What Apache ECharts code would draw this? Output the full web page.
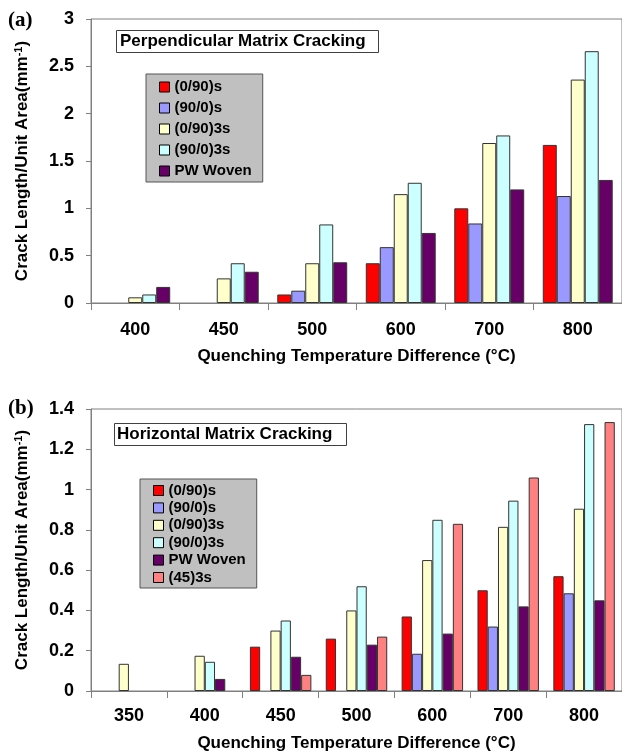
<!DOCTYPE html>
<html>
<head>
<meta charset="utf-8">
<script src="https://cdn.jsdelivr.net/npm/echarts@6/dist/echarts.min.js"></script>
<style>
html,body{margin:0;padding:0;background:#fff;}
#chart{width:622px;height:753px;}
</style>
</head>
<body>
<div id="chart"></div>
<script>
// ---- Data: panel (a) Perpendicular Matrix Cracking ----
var categoriesA = ['400', '450', '500', '600', '700', '800'];
var a_0_90s   = [null, null, 0.09, 0.42, 1.00, 1.67];
var a_90_0s   = [null, null, 0.13, 0.59, 0.84, 1.13];
var a_0_90_3s = [0.06, 0.26, 0.42, 1.15, 1.69, 2.36];
var a_90_0_3s = [0.09, 0.42, 0.83, 1.27, 1.77, 2.66];
var a_pw      = [0.17, 0.33, 0.43, 0.74, 1.20, 1.30];

// ---- Data: panel (b) Horizontal Matrix Cracking ----
var categoriesB = ['350', '400', '450', '500', '600', '700', '800'];
var b_0_90s   = [null, null, 0.22, 0.26, 0.37, 0.50, 0.57];
var b_90_0s   = [null, null, null, null, 0.185, 0.32, 0.485];
var b_0_90_3s = [0.135, 0.175, 0.30, 0.40, 0.65, 0.815, 0.905];
var b_90_0_3s = [null, 0.145, 0.35, 0.52, 0.85, 0.945, 1.325];
var b_pw      = [null, 0.06, 0.17, 0.23, 0.285, 0.42, 0.45];
var b_45_3s   = [null, null, 0.08, 0.27, 0.83, 1.06, 1.335];

var seriesNames = ['(0/90)s', '(90/0)s', '(0/90)3s', '(90/0)3s', 'PW Woven', '(45)3s'];
var yTicksA = {min: 0, max: 3, interval: 0.5};
var yTicksB = {min: 0, max: 1.4, interval: 0.2};
var xTitle = 'Quenching Temperature Difference (°C)';
var yTitle = 'Crack Length/Unit Area(mm{sup|-1})';

var colors = ['#ff0000', '#9999ff', '#ffffcc', '#ccffff', '#660066', '#ff8080'];
var FONT = "'Liberation Sans', Arial, sans-serif";

function mkX(idx, cats, margin, nameGap) {
  return {
    type: 'category', gridIndex: idx, data: cats,
    axisLine: {lineStyle: {color: '#808080', width: 1}},
    axisTick: {show: true, length: 7, lineStyle: {color: '#808080'}},
    axisLabel: {margin: margin, color: '#000', fontSize: 18, fontWeight: 'bold', fontFamily: FONT},
    name: xTitle, nameLocation: 'middle', nameGap: nameGap,
    nameTextStyle: {color: '#000', fontSize: 17, fontWeight: 'bold', fontFamily: FONT}
  };
}
function mkY(idx, t) {
  return {
    type: 'value', gridIndex: idx, min: t.min, max: t.max, interval: t.interval,
    axisLine: {show: true, lineStyle: {color: '#808080', width: 1}},
    axisTick: {show: true, length: 5, lineStyle: {color: '#808080'}},
    splitLine: {show: false},
    axisLabel: {margin: 17, color: '#000', fontSize: 18, fontWeight: 'bold', fontFamily: FONT},
    name: yTitle, nameLocation: 'middle', nameGap: 59, nameRotate: 90,
    nameTextStyle: {color: '#000', fontSize: 17, fontWeight: 'bold', fontFamily: FONT,
      rich: {sup: {fontSize: 11, fontWeight: 'bold', fontFamily: FONT, color: '#000', verticalAlign: 'top', padding: [0, 0, 8, 0]}}}
  };
}
function mkSeries(name, data, idx, ci, gap) {
  return {
    name: name, type: 'bar', xAxisIndex: idx, yAxisIndex: idx, data: data,
    barGap: '0%', barCategoryGap: gap,
    itemStyle: {color: colors[ci], borderColor: '#333', borderWidth: 1},
    emphasis: {disabled: true}
  };
}

var chart = echarts.init(document.getElementById('chart'), null, {renderer: 'canvas'});
var option = {
  animation: false,
  backgroundColor: '#fff',
  title: [
    {text: 'Perpendicular Matrix Cracking', left: 116, top: 30, padding: [3, 13, 3, 4],
     borderColor: '#404040', borderWidth: 1, backgroundColor: '#fff',
     textStyle: {color: '#000', fontSize: 17, fontWeight: 'bold', fontFamily: FONT}},
    {text: 'Horizontal Matrix Cracking', left: 114, top: 423, padding: [3, 14, 3, 3],
     borderColor: '#404040', borderWidth: 1, backgroundColor: '#fff',
     textStyle: {color: '#000', fontSize: 17, fontWeight: 'bold', fontFamily: FONT}}
  ],
  legend: [
    {data: seriesNames.slice(0, 5), orient: 'vertical', left: 146, top: 74,
     padding: [5, 11, 3, 13], itemGap: 5, itemWidth: 10, itemHeight: 10, icon: 'rect',
     backgroundColor: '#c0c0c0', borderColor: '#555', borderWidth: 1, selectedMode: false,
     itemStyle: {borderColor: '#000', borderWidth: 1},
     textStyle: {color: '#000', fontSize: 15, lineHeight: 16, fontWeight: 'bold', fontFamily: FONT}},
    {data: seriesNames, orient: 'vertical', left: 140, top: 479,
     padding: [4, 11, 3, 13], itemGap: 2.4, itemWidth: 10, itemHeight: 10, icon: 'rect',
     backgroundColor: '#c0c0c0', borderColor: '#555', borderWidth: 1, selectedMode: false,
     itemStyle: {borderColor: '#000', borderWidth: 1},
     textStyle: {color: '#000', fontSize: 15, lineHeight: 14, fontWeight: 'bold', fontFamily: FONT}}
  ],
  graphic: [
    {type: 'text', left: 8, top: 10, style: {text: '(a)', font: "bold 21px 'Liberation Serif', 'Times New Roman', serif", fill: '#000'}},
    {type: 'text', left: 8, top: 398, style: {text: '(b)', font: "bold 21px 'Liberation Serif', 'Times New Roman', serif", fill: '#000'}}
  ],
  grid: [
    {left: 91, top: 19, width: 534, height: 284, show: true, borderColor: '#808080', borderWidth: 1, backgroundColor: 'transparent'},
    {left: 91, top: 409, width: 537, height: 283.5, show: true, borderColor: '#808080', borderWidth: 1, backgroundColor: 'transparent'}
  ],
  xAxis: [mkX(0, categoriesA, 18, 45), mkX(1, categoriesB, 16, 44)],
  yAxis: [mkY(0, yTicksA), mkY(1, yTicksB)],
  series: [
    mkSeries('(0/90)s', a_0_90s, 0, 0, '21%'),
    mkSeries('(90/0)s', a_90_0s, 0, 1, '21%'),
    mkSeries('(0/90)3s', a_0_90_3s, 0, 2, '21%'),
    mkSeries('(90/0)3s', a_90_0_3s, 0, 3, '21%'),
    mkSeries('PW Woven', a_pw, 0, 4, '21%'),
    mkSeries('(0/90)s', b_0_90s, 1, 0, '19%'),
    mkSeries('(90/0)s', b_90_0s, 1, 1, '19%'),
    mkSeries('(0/90)3s', b_0_90_3s, 1, 2, '19%'),
    mkSeries('(90/0)3s', b_90_0_3s, 1, 3, '19%'),
    mkSeries('PW Woven', b_pw, 1, 4, '19%'),
    mkSeries('(45)3s', b_45_3s, 1, 5, '19%')
  ]
};
chart.setOption(option);
</script>
</body>
</html>
